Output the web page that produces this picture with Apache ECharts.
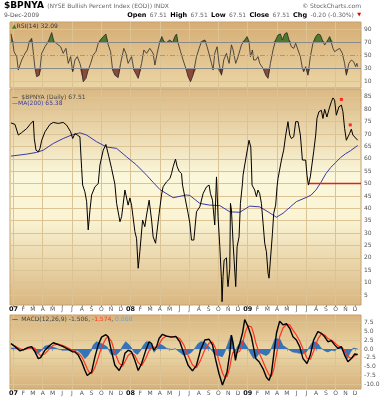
<!DOCTYPE html>
<html><head><meta charset="utf-8">
<script src="https://cdn.jsdelivr.net/npm/echarts@6/dist/echarts.min.js"></script>
<style>html,body{margin:0;padding:0;background:#fff}#c{width:388px;height:400px}</style>
</head><body><div id="c"></div>
<script>
// x values are months since 2007-01-01 (0 = Jan 2007, 12 = Jan 2008, 24 = Jan 2009)
const monthLabels = ['07','F','M','A','M','J','J','A','S','O','N','D','08','F','M','A','M','J','J','A','S','O','N','D','09','F','M','A','M','J','J','A','S','O','N','D'];
const mainTicks = [5,10,15,20,25,30,35,40,45,50,55,60,65,70,75,80,85];
const rsiTicks = [10,30,50,70,90];
const macdTicks = [-10,-7.5,-5,-2.5,0,2.5,5,7.5];

const priceMonths = [-0.25,0.16,0.50,0.85,1.36,1.70,2.04,2.14,2.31,2.55,2.72,2.90,3.23,3.74,4.08,4.59,5.10,5.45,5.62,5.86,6.07,6.30,6.54,6.81,6.99,7.09,7.32,7.50,7.66,7.84,8.01,8.35,8.69,8.86,9.20,9.47,9.78,10.06,10.39,10.57,10.91,11.08,11.42,11.75,11.93,12.10,12.44,12.61,12.78,12.95,13.23,13.46,13.64,13.90,14.15,14.31,14.56,14.66,14.93,15.17,15.33,15.68,16.02,16.19,16.36,16.60,16.77,16.97,17.22,17.32,17.38,17.89,18.07,18.24,18.48,18.75,19.09,19.43,19.78,20.04,20.18,20.39,20.62,20.80,20.96,21.14,21.31,21.37,21.47,21.58,21.75,21.82,21.92,21.98,22.16,22.23,22.33,22.50,22.67,22.77,22.91,23.11,23.25,23.46,23.52,23.69,24.13,24.31,24.38,24.44,24.71,24.89,25.05,25.22,25.40,25.57,25.74,25.91,26.08,26.18,26.32,26.53,26.66,26.86,27.00,27.10,27.45,27.68,27.89,28.12,28.30,28.47,28.71,28.91,29.15,29.39,29.60,29.76,29.93,30.07,30.21,30.41,30.75,30.96,31.09,31.29,31.54,31.70,31.88,32.11,32.32,32.56,32.73,32.90,33.07,33.34,33.59,33.75,33.92,34.10,34.26,34.43,34.61,34.77,34.95,35.26];
const priceValues = [74.5,73.9,69.6,70.6,72.2,73.9,75.3,68.2,63.5,62.8,64.2,67.5,70.9,73.9,74.7,74.3,74.7,73.6,72.5,70.9,68.2,70.2,69.6,68.9,56,49.4,46.7,42.7,31.3,39.3,45.4,48.7,50,57.5,63.5,65.8,60.8,56,49.8,42,34.6,36.6,47.4,41.3,44.2,41.3,30.6,27.9,15.8,22.5,35.3,32.6,37.3,43.3,35.3,28.5,25.9,29.2,38,45.4,48.7,50.7,52,54,56.8,59.9,56.8,55,54,49.4,48.7,38,34,27.2,27.2,38.6,40.6,46,48.7,49.4,46,43.3,33.3,52.7,36.6,24.5,11.1,2.3,12.4,19.1,18.5,20,11.1,8.4,15.8,42,39.3,25.9,25.2,8.4,24.5,28.5,42,50,53.4,57.5,67.5,64.8,57.5,49.4,47.4,44.7,47.4,46,42,34,25.9,22.5,13.8,11.8,19.1,29.9,38,41.3,48.7,52,59.5,63.5,69.6,75,69.6,68.2,68.9,75,75,69.6,59.5,58.8,59.5,53.4,49.4,52.7,62.8,69.6,76.3,79,79.6,76.3,80,76.9,80,83,84.6,83.7,77.6,81,81.7,79,72.3,67.5,66.9,70.2,72,69.6,70.2,67.51];

const maMonths = [-0.25,1.36,2.38,3.06,4.08,5.10,5.96,6.81,7.50,8.52,9.54,10.57,11.59,12.61,13.64,14.31,15.0,16.36,17.73,18.07,19.09,20.11,21.14,22.16,23.18,24.20,25.22,26.08,26.94,27.61,28.98,30.17,30.5,31.0,31.5,32.0,32.5,33.0,33.5,34.0,34.5,35.26];
const maValues = [61.1,61.9,62.6,63.5,66.2,68.2,69.6,70.5,69.6,66.9,64.8,64.2,60.8,57.5,53.4,50.5,47.6,44.3,45.4,45.2,42,41.3,41.1,38.6,38.4,40.9,40.6,38.6,36.4,38,42.7,44.7,45.4,47.5,50.5,54,56.5,58.5,60.5,62,63.2,65.38];

const rsiMonths = [-0.25,-0.07,0.06,0.34,0.50,0.85,1.19,1.42,1.63,1.87,1.97,2.21,2.38,2.65,2.90,3.23,3.57,3.92,4.15,4.43,4.59,4.84,5.10,5.38,5.62,5.86,6.07,6.30,6.54,6.81,6.99,7.15,7.43,7.66,7.91,8.17,8.45,8.69,9.03,9.47,9.71,9.95,10.16,10.39,10.73,10.98,11.31,11.52,11.75,12.10,12.34,12.54,12.78,13.13,13.36,13.64,13.97,14.31,14.49,14.72,15.00,15.20,15.41,15.68,16.02,16.30,16.53,16.71,16.87,17.12,17.38,17.66,17.89,18.14,18.40,18.75,19.02,19.26,19.60,19.84,20.04,20.29,20.45,20.62,20.86,21.06,21.31,21.54,21.82,22.09,22.33,22.50,22.77,23.01,23.36,23.69,23.93,24.13,24.28,24.48,24.61,24.82,25.05,25.23,25.57,25.84,26.08,26.32,26.59,26.86,27.10,27.35,27.55,27.78,28.02,28.23,28.47,28.71,28.91,29.15,29.39,29.60,29.73,29.93,30.17,30.41,30.68,30.96,31.19,31.44,31.64,31.88,32.11,32.39,32.56,32.73,32.90,33.14,33.41,33.69,33.92,34.10,34.36,34.61,34.84,35.05,35.18,35.26];
const rsiValues = [82.8,71,55.4,47.7,27,42.5,52.8,58,71,76,63,29.6,16.6,19,52.8,63,71,84.9,71,68,71,63,52.8,60.5,37.3,47.7,24.4,42.5,47.7,37.3,27,8.9,14.1,27,37.3,50.2,55.4,68.4,76,82.8,66,55.4,27,19,15.3,37.3,60.5,52.8,37.3,47.7,27,27,14.1,37.3,58,52.8,60.5,52.8,34.7,52.8,71,78.7,71,69.4,73.5,69.4,78.7,82.8,68.4,55.4,42.5,29.6,16.6,8.9,19,47.7,60.5,71,73.5,63,63,37.3,27,52.8,63,37.3,19,42.5,52.8,37.3,66,58,37.3,47.7,66,73.5,78.7,71,47.7,58,42.5,42.5,47.7,37.3,29.6,19,14.1,37.3,58,73.5,81.3,82.8,73.5,82.8,84.9,73.5,63,60.5,68.4,58,47.7,29.6,24.4,32.2,19,47.7,68.4,78.7,82.8,81.3,73.5,65.6,71,78.7,78.7,60.5,55.4,58,60.5,52.8,37.3,19,37.3,42.5,40,32.2,37.3,32.09];

const macdMonths = [-0.25,0.16,0.68,1.08,1.52,1.87,2.21,2.55,2.79,3.23,3.74,4.08,4.59,5.10,5.62,6.07,6.30,6.64,6.99,7.32,7.56,7.76,8.01,8.35,8.69,9.03,9.47,9.71,10.06,10.39,10.83,11.18,11.42,11.75,12.10,12.44,12.78,13.13,13.56,13.90,14.15,14.38,14.66,14.93,15.27,15.68,16.19,16.63,17.04,17.45,17.89,18.34,18.75,19.16,19.60,20.04,20.39,20.73,21.06,21.41,21.65,21.88,22.16,22.33,22.50,22.74,22.91,23.18,23.46,23.69,23.86,24.03,24.20,24.38,24.61,24.82,25.16,25.57,25.91,26.18,26.42,26.66,26.94,27.27,27.61,27.96,28.30,28.63,28.98,29.32,29.66,30.07,30.41,30.75,31.19,31.54,31.88,32.21,32.56,32.90,33.24,33.59,33.92,34.26,34.61,34.95,35.26];
const macdValues = [1.6,0.7,-0.5,-0.1,0.5,0.7,-0.8,-2.7,-2.4,-0.3,1.1,1.8,1.3,0.7,-0.1,-0.8,-0.8,-1.7,-3.6,-6.0,-7.5,-7.8,-6.5,-2.2,1.2,3.4,4.1,3.5,-0.8,-4.6,-6.1,-4.1,-1.2,-0.3,-0.8,-3.2,-6.1,-4.1,-0.3,2.1,1.6,-0.3,0.7,3.1,4.2,3.7,3.4,3.6,2.1,-1.2,-4.6,-6.2,-4.6,-0.3,2.6,2.8,1.2,-3.2,-7.0,-10.2,-8.4,-6.5,-1.2,4.0,1.6,-3.2,-0.8,1.6,4.5,8.4,7.9,6.4,5.9,3.5,0.2,-2.7,-3.6,-5.6,-8.0,-8.9,-7.0,-1.7,4.5,7.9,6.9,7.2,5.9,3.5,2.6,0.7,-2.7,-4.1,-1.7,2.6,5.0,4.5,3.5,2.1,2.4,1.2,0.2,0.7,-1.7,-3.6,-2.7,-1.4,-1.506];
const signalValues = [1.4,0.9,0.1,-0.2,0.2,0.5,0.2,-1.2,-1.9,-1.3,0.2,1.1,1.4,1.0,0.3,-0.4,-0.6,-1.1,-2.2,-4.0,-5.6,-6.6,-7.0,-5.2,-2.4,0.6,3.0,3.5,2.1,-1.0,-4.0,-4.9,-3.6,-1.8,-1.0,-1.8,-3.8,-4.7,-2.6,-0.4,0.6,0.6,0.4,1.4,3.0,3.7,3.5,3.5,3.0,1.2,-1.8,-4.5,-5.3,-3.2,-0.2,1.7,2.0,0.0,-3.5,-6.8,-8.0,-7.8,-5.2,-2.5,-0.8,-1.2,-1.4,-0.6,1.5,4.2,5.6,6.6,6.9,6.3,4.3,1.8,-1.0,-3.6,-5.8,-7.3,-7.8,-5.8,-1.5,3.5,6.0,7.0,6.9,5.4,4.0,2.3,0.0,-2.6,-2.9,-0.6,2.9,4.3,4.0,3.0,2.6,1.8,0.9,0.6,-0.4,-2.1,-2.7,-1.9,-1.574];

const histMonths = [-0.25,0.5,1.0,1.5,1.9,2.2,2.5,2.8,3.2,3.6,4.0,4.6,5.1,5.6,6.1,6.6,7.0,7.3,7.6,7.9,8.2,8.5,8.8,9.2,9.6,10.0,10.3,10.6,10.9,11.2,11.5,11.8,12.1,12.4,12.7,13.0,13.3,13.6,13.9,14.2,14.4,14.7,15.0,15.3,15.7,16.2,16.6,17.0,17.4,17.8,18.2,18.6,18.9,19.2,19.6,20.0,20.4,20.7,21.0,21.4,21.7,22.0,22.3,22.5,22.7,22.9,23.2,23.5,23.7,24.0,24.3,24.6,24.9,25.2,25.6,25.9,26.2,26.5,26.8,27.0,27.3,27.6,28.0,28.3,28.6,29.0,29.3,29.7,30.0,30.3,30.6,30.9,31.2,31.5,31.9,32.2,32.6,32.9,33.2,33.5,33.8,34.0,34.2,34.5,34.8,35.0,35.26];
const histValues = [0.3,0.2,-0.3,0.3,0.2,-0.8,-1.3,-0.6,0.8,1.1,0.6,0.0,-0.3,-0.3,-0.3,-0.4,-1.4,-2.7,-2.0,-0.6,1.2,2.1,1.8,1.3,0.6,-1.5,-1.7,-1.5,-0.6,0.9,2.1,1.4,0.3,-1.0,-1.5,-0.5,1.0,2.1,2.0,0.8,-0.9,0.1,1.4,1.0,0.2,-0.1,0.1,-0.8,-1.7,-1.5,-1.0,0.3,1.5,2.1,2.0,0.8,-0.7,-1.7,-1.8,-2.2,-0.5,1.8,4.0,2.0,-2.0,0.5,1.8,2.5,2.0,0.3,-1.3,-2.7,-2.3,-1.0,-1.5,-1.8,-1.2,0.8,3.0,3.5,2.8,1.0,0.3,-0.3,-0.8,-1.0,-1.2,-1.3,-0.8,0.5,1.8,2.1,1.5,0.3,-0.5,-0.8,-0.3,-0.5,0.3,0.5,-0.6,-1.5,-2.7,-1.0,0.3,0.4,0.068];

const redDotMonths = [33.59, 34.50];
const redDotValues = [84.0, 73.7];
const supportMonths = [30.21, 35.6];
const supportValues = [50, 50];

// ---------- build ----------
const zip = (a, b) => a.map((x, i) => [x, b[i]]);
const FONT = 'DejaVu Sans';
const X0 = -0.35, X1 = 35.6;
const monthIdx = monthLabels.map((_, i) => i);
const quarters = monthIdx.filter(i => i % 3 === 0);
const grad = stops => ({type:'linear', x:0, y:0, x2:0, y2:1, colorStops: stops.map(s => ({offset:s[0], color:s[1]}))});
const GRIDLINE = '#dcc394';

function xMain(g, labels) {
  return {type:'value', gridIndex:g, min:X0, max:X1,
    axisLine:{show:false}, splitLine:{show:false},
    axisTick:{show:labels, customValues:monthIdx, length:2, lineStyle:{color:'#999'}},
    axisLabel:{show:labels, customValues:monthIdx, margin:1, fontSize:6, fontFamily:FONT, color:'#555',
      formatter: v => { const s = monthLabels[Math.round(v)]; return /\d/.test(s) ? '{y|' + s + '}' : s; },
      rich:{y:{fontWeight:'bold', color:'#111', fontSize:6.5, fontFamily:FONT}}}};
}
function xQuarter(g) {
  return {type:'value', gridIndex:g, min:X0, max:X1, position:'top',
    axisLine:{show:false}, axisLabel:{show:false},
    axisTick:{show:false, customValues:quarters},
    splitLine:{show:true, lineStyle:{color:GRIDLINE, width:1}}};
}
function yAx(g, min, max, ticks, fmt) {
  return {type:'value', gridIndex:g, position:'right', min, max,
    axisLine:{show:false}, axisTick:{show:false, customValues:ticks},
    axisLabel:{customValues:ticks, margin:3, fontSize:6, fontFamily:FONT, color:'#555', formatter:fmt},
    splitLine:{show:true, lineStyle:{color:GRIDLINE, width:1}}};
}

const option = {
  animation:false,
  backgroundColor:'#ffffff',
  grid:[
    {left:10, top:22, width:351, height:66, show:true, borderColor:'#c6a16b', borderWidth:1,
      backgroundColor:grad([[0,'#d5ad75'],[1,'#ecd6a5']])},
    {left:10, top:89, width:351, height:216, show:true, borderColor:'#c6a16b', borderWidth:1,
      backgroundColor:grad([[0,'#dab882'],[0.4,'#fbf7da'],[0.6,'#faf4d4'],[1,'#d9b680']])},
    {left:10, top:315, width:351, height:74, show:true, borderColor:'#c6a16b', borderWidth:1,
      backgroundColor:grad([[0,'#d8b47e'],[0.5,'#ebd6a6'],[1,'#d6b07a']])}
  ],
  xAxis:[xMain(0,false), xMain(1,true), xMain(2,true), xQuarter(0), xQuarter(1), xQuarter(2)],
  yAxis:[
    yAx(0, -0.8, 101.3, rsiTicks, v => String(v)),
    yAx(1, 0.96, 88.2, mainTicks, v => String(v)),
    yAx(2, -11.34, 9.69, macdTicks, v => v.toFixed(1))
  ],
  series:[
    {type:'line', xAxisIndex:0, yAxisIndex:0, symbol:'none', silent:true, z:2,
      data:zip(rsiMonths, rsiValues.map(v => Math.max(v, 70))),
      lineStyle:{width:0}, areaStyle:{origin:70, color:'#4d7a2b', opacity:1}},
    {type:'line', xAxisIndex:0, yAxisIndex:0, symbol:'none', silent:true, z:2,
      data:zip(rsiMonths, rsiValues.map(v => Math.min(v, 30))),
      lineStyle:{width:0}, areaStyle:{origin:30, color:'#8b4a3a', opacity:1}},
    {type:'line', xAxisIndex:0, yAxisIndex:0, symbol:'none', silent:true, z:3,
      data:zip(rsiMonths, rsiValues), lineStyle:{color:'#2a2a2a', width:0.8},
      markLine:{silent:true, symbol:['none','none'], label:{show:false},
        data:[
          {yAxis:70, lineStyle:{color:'#8a8a8a', width:1, type:'solid'}},
          {yAxis:30, lineStyle:{color:'#8a8a8a', width:1, type:'solid'}},
          {yAxis:50, lineStyle:{color:'#9a9a9a', width:1, type:[5,2,1,2]}}
        ]}},
    {type:'line', xAxisIndex:1, yAxisIndex:1, symbol:'none', silent:true, z:3,
      data:zip(maMonths, maValues), lineStyle:{color:'#3a3aa6', width:1}},
    {type:'line', xAxisIndex:1, yAxisIndex:1, symbol:'none', silent:true, z:3,
      data:zip(supportMonths, supportValues), lineStyle:{color:'#e02020', width:1.5}},
    {type:'line', xAxisIndex:1, yAxisIndex:1, symbol:'none', silent:true, z:4,
      data:zip(priceMonths, priceValues), lineStyle:{color:'#000', width:1}},
    {type:'scatter', xAxisIndex:1, yAxisIndex:1, silent:true, z:5, symbol:'rect', symbolSize:3,
      data:zip(redDotMonths, redDotValues), itemStyle:{color:'#ff0000'}},
    {type:'line', xAxisIndex:2, yAxisIndex:2, symbol:'none', silent:true, z:2,
      data:zip(histMonths, histValues), lineStyle:{color:'#2a64a8', width:0.6},
      areaStyle:{origin:0, color:'#3574bb', opacity:1}},
    {type:'line', xAxisIndex:2, yAxisIndex:2, symbol:'none', silent:true, z:3,
      data:zip(macdMonths, signalValues), lineStyle:{color:'#ff3322', width:1.2}},
    {type:'line', xAxisIndex:2, yAxisIndex:2, symbol:'none', silent:true, z:4,
      data:zip(macdMonths, macdValues), lineStyle:{color:'#000', width:1.4}}
  ],
  graphic:[
    {type:'text', x:4, y:6, z:100, style:{text:'{a|$BPNYA} {b|(NYSE Bullish Percent Index (EOD)) INDX}', verticalAlign:'middle',
      rich:{a:{fontFamily:FONT, fontWeight:'bold', fontSize:9, fill:'#000'}, b:{fontFamily:FONT, fontSize:6, fill:'#666'}}}},
    {type:'text', x:361, y:6, z:100, style:{text:'© StockCharts.com', align:'right', verticalAlign:'middle', fontFamily:FONT, fontSize:6, fill:'#666'}},
    {type:'text', x:4, y:15, z:100, style:{text:'9-Dec-2009', verticalAlign:'middle', fontFamily:FONT, fontSize:6, fill:'#555'}},
    {type:'text', x:361, y:15, z:100, style:{text:'{k|Open} {v|67.51} {k|High} {v|67.51} {k|Low} {v|67.51} {k|Close} {v|67.51} {k|Chg} {v|-0.20 (-0.30%)} {r|▼}',
      align:'right', verticalAlign:'middle',
      rich:{k:{fontFamily:FONT, fontWeight:'bold', fontSize:6.5, fill:'#000'}, v:{fontFamily:FONT, fontSize:6, fill:'#666'}, r:{fontFamily:FONT, fontSize:5, fill:'#e00000'}}}},
    {type:'text', x:12, y:26, z:100, style:{text:'{g|▲}{t|RSI(14) 32.09}', verticalAlign:'middle',
      rich:{g:{fontFamily:FONT, fontSize:6, fill:'#4d7a2b'}, t:{fontFamily:FONT, fontSize:6, fill:'#333'}}}},
    {type:'text', x:12, y:97, z:100, style:{text:'{d|—} {t|$BPNYA (Daily) 67.51}', verticalAlign:'middle',
      rich:{d:{fontFamily:FONT, fontSize:6, fill:'#222'}, t:{fontFamily:FONT, fontSize:6, fill:'#444'}}}},
    {type:'text', x:12, y:103, z:100, style:{text:'{d|—}{t|MA(200) 65.38}', verticalAlign:'middle',
      rich:{d:{fontFamily:FONT, fontSize:6, fill:'#3a3aa6'}, t:{fontFamily:FONT, fontSize:6, fill:'#3a3aa6'}}}},
    {type:'text', x:12, y:319.5, z:100, style:{text:'{d|—} {t|MACD(12,26,9) -1.506, }{r|-1.574}{t|, }{b|0.068}', verticalAlign:'middle',
      rich:{d:{fontFamily:FONT, fontSize:6, fill:'#000'}, t:{fontFamily:FONT, fontSize:6, fill:'#444'}, r:{fontFamily:FONT, fontSize:6, fill:'#ff3322'}, b:{fontFamily:FONT, fontSize:6, fill:'#6f9fd0'}}}}
  ]
};
const chart = echarts.init(document.getElementById('c'));
chart.setOption(option);
</script>
</body></html>
